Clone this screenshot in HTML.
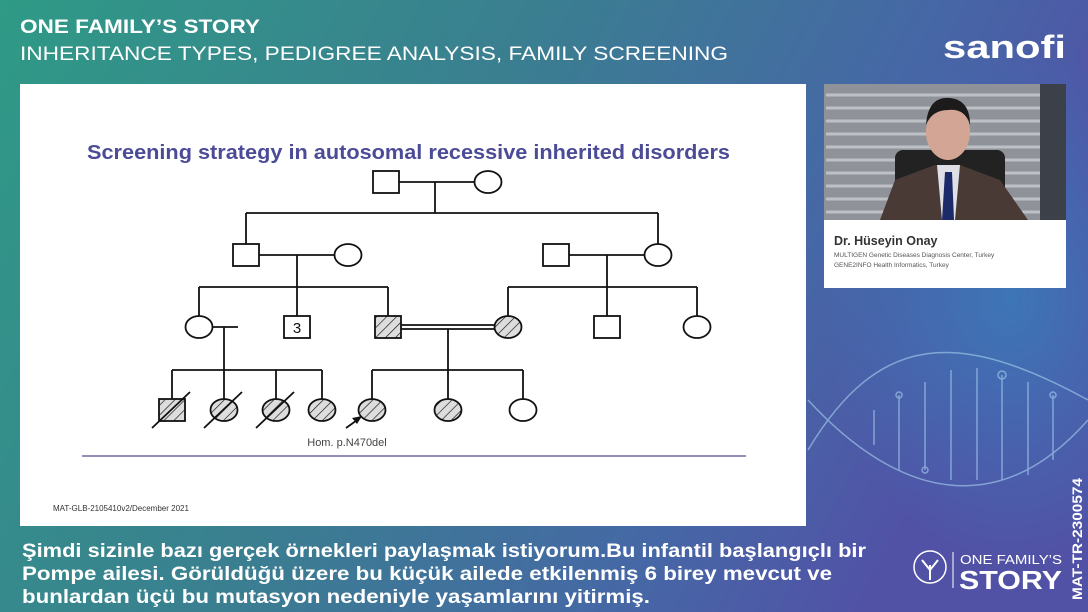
<!DOCTYPE html>
<html><head><meta charset="utf-8"><style>
body{margin:0;width:1088px;height:612px;overflow:hidden;font-family:"Liberation Sans",sans-serif;}
</style></head><body>
<svg width="1088" height="612" viewBox="0 0 1088 612" xmlns="http://www.w3.org/2000/svg" style="display:block">
<defs>
<linearGradient id="bg" x1="0" y1="0" x2="1" y2="0.3">
<stop offset="0" stop-color="#2f9a86"/><stop offset="0.45" stop-color="#3a7f90"/><stop offset="0.8" stop-color="#4667a6"/><stop offset="1" stop-color="#5152a6"/></linearGradient>
<pattern id="h" width="7" height="7" patternUnits="userSpaceOnUse" patternTransform="rotate(45)"><rect width="7" height="7" fill="#ddd"/><line x1="0" y1="0" x2="0" y2="7" stroke="#111" stroke-width="1.3"/></pattern>
<radialGradient id="blob" cx="0.5" cy="0.5" r="0.5"><stop offset="0" stop-color="#3b7ab8" stop-opacity="0.9"/><stop offset="1" stop-color="#3b7ab8" stop-opacity="0"/></radialGradient>
</defs>
<rect width="1088" height="612" fill="url(#bg)"/>
<ellipse cx="1010" cy="300" rx="190" ry="260" fill="url(#blob)"/>
<g stroke="#9cc3e6" stroke-width="1.5" fill="none" opacity="0.7">
<path d="M808 450 C 880 330, 960 330, 1088 400"/>
<path d="M808 400 C 900 500, 1000 520, 1088 420"/>
<line x1="874" y1="410" x2="874" y2="445"/><line x1="899" y1="395" x2="899" y2="470"/><line x1="925" y1="382" x2="925" y2="470"/><line x1="951" y1="370" x2="951" y2="480"/><line x1="977" y1="368" x2="977" y2="480"/><line x1="1002" y1="375" x2="1002" y2="480"/><line x1="1028" y1="382" x2="1028" y2="475"/><line x1="1053" y1="395" x2="1053" y2="460"/>
<circle cx="899" cy="395" r="3"/><circle cx="1002" cy="375" r="4"/><circle cx="1053" cy="395" r="3"/><circle cx="925" cy="470" r="3"/>
</g>
<text x="20" y="33" fill="#fff" font-size="19" font-weight="bold" textLength="240" lengthAdjust="spacingAndGlyphs">ONE FAMILY’S STORY</text>
<text x="20" y="60" fill="#fff" font-size="19" textLength="708" lengthAdjust="spacingAndGlyphs">INHERITANCE TYPES, PEDIGREE ANALYSIS, FAMILY SCREENING</text>
<text x="943" y="58" fill="#fff" font-size="32" font-weight="bold" textLength="123" lengthAdjust="spacingAndGlyphs">sanofi</text>
<rect x="20" y="84" width="786" height="442" fill="#fff"/>
<text x="87" y="159" fill="#4b4b98" font-size="20" font-weight="bold" textLength="643" lengthAdjust="spacingAndGlyphs">Screening strategy in autosomal recessive inherited disorders</text>
<g stroke="#111" stroke-width="1.8" fill="#fff">
<line x1="399" y1="182" x2="474" y2="182"/><line x1="435" y1="182" x2="435" y2="213"/><line x1="246" y1="213" x2="658" y2="213"/>
<line x1="246" y1="213" x2="246" y2="244"/><line x1="658" y1="213" x2="658" y2="244"/>
<rect x="373" y="171" width="26" height="22"/><ellipse cx="488" cy="182" rx="13.5" ry="11"/>
<line x1="259" y1="255" x2="335" y2="255"/><line x1="297" y1="255" x2="297" y2="287"/>
<line x1="569" y1="255" x2="645" y2="255"/><line x1="607" y1="255" x2="607" y2="287"/>
<rect x="233" y="244" width="26" height="22"/><ellipse cx="348" cy="255" rx="13.5" ry="11"/>
<rect x="543" y="244" width="26" height="22"/><ellipse cx="658" cy="255" rx="13.5" ry="11"/>
<line x1="199" y1="287" x2="388" y2="287"/><line x1="508" y1="287" x2="697" y2="287"/>
<line x1="199" y1="287" x2="199" y2="316"/><line x1="297" y1="287" x2="297" y2="316"/><line x1="388" y1="287" x2="388" y2="316"/>
<line x1="508" y1="287" x2="508" y2="316"/><line x1="607" y1="287" x2="607" y2="316"/><line x1="697" y1="287" x2="697" y2="316"/>
<line x1="212" y1="327" x2="238" y2="327"/><line x1="224" y1="327" x2="224" y2="370"/>
<line x1="401" y1="325" x2="495" y2="325"/><line x1="401" y1="329" x2="495" y2="329"/><line x1="448" y1="329" x2="448" y2="370"/>
<line x1="172" y1="370" x2="322" y2="370"/><line x1="372" y1="370" x2="523" y2="370"/>
<line x1="172" y1="370" x2="172" y2="399"/><line x1="224" y1="370" x2="224" y2="399"/><line x1="276" y1="370" x2="276" y2="399"/><line x1="322" y1="370" x2="322" y2="399"/>
<line x1="372" y1="370" x2="372" y2="399"/><line x1="448" y1="370" x2="448" y2="399"/><line x1="523" y1="370" x2="523" y2="399"/>
<ellipse cx="199" cy="327" rx="13.5" ry="11"/><rect x="284" y="316" width="26" height="22"/>
<rect x="375" y="316" width="26" height="22" fill="url(#h)"/><ellipse cx="508" cy="327" rx="13.5" ry="11" fill="url(#h)"/>
<rect x="594" y="316" width="26" height="22"/><ellipse cx="697" cy="327" rx="13.5" ry="11"/>
<rect x="159" y="399" width="26" height="22" fill="url(#h)"/>
<ellipse cx="224" cy="410" rx="13.5" ry="11" fill="url(#h)"/><ellipse cx="276" cy="410" rx="13.5" ry="11" fill="url(#h)"/>
<ellipse cx="322" cy="410" rx="13.5" ry="11" fill="url(#h)"/><ellipse cx="372" cy="410" rx="13.5" ry="11" fill="url(#h)"/>
<ellipse cx="448" cy="410" rx="13.5" ry="11" fill="url(#h)"/><ellipse cx="523" cy="410" rx="13.5" ry="11"/>
<line x1="152" y1="428" x2="190" y2="392"/><line x1="204" y1="428" x2="242" y2="392"/><line x1="256" y1="428" x2="294" y2="392"/>
<line x1="346" y1="428" x2="360" y2="418"/>
</g>
<path d="M362 416 L352 418 L357 424 Z" fill="#111"/>
<text x="297" y="333" text-anchor="middle" font-size="15" fill="#111">3</text>
<text x="347" y="446" text-anchor="middle" font-size="11" fill="#444">Hom. p.N470del</text>
<line x1="82" y1="456" x2="746" y2="456" stroke="#6b6ba3" stroke-width="1.5"/>
<text x="53" y="511" font-size="8" fill="#333">MAT-GLB-2105410v2/December 2021</text>
<rect x="824" y="84" width="242" height="136" fill="#8f9399"/>
<g stroke="#c9cdd2" stroke-width="3" opacity="0.8"><line x1="826" y1="95" x2="1040" y2="95"/><line x1="826" y1="108" x2="1040" y2="108"/><line x1="826" y1="121" x2="1040" y2="121"/><line x1="826" y1="134" x2="1040" y2="134"/><line x1="826" y1="147" x2="1040" y2="147"/><line x1="826" y1="160" x2="1040" y2="160"/><line x1="826" y1="173" x2="1040" y2="173"/><line x1="826" y1="186" x2="1040" y2="186"/><line x1="826" y1="199" x2="1040" y2="199"/><line x1="826" y1="212" x2="1040" y2="212"/></g>
<rect x="1040" y="84" width="26" height="136" fill="#3c4048"/>
<rect x="895" y="150" width="110" height="70" fill="#222" rx="8"/>
<path d="M880 220 L895 180 L935 165 L960 165 L1000 180 L1028 220 Z" fill="#4a3a36"/>
<path d="M937 165 L960 165 L955 220 L942 220 Z" fill="#dfe0e6"/>
<path d="M945 172 L952 172 L954 220 L942 220 Z" fill="#1c2a6a"/>
<ellipse cx="948" cy="132" rx="22" ry="28" fill="#d3a594"/>
<path d="M926 125 Q928 96 950 98 Q970 100 970 125 Q965 108 948 110 Q932 110 926 125Z" fill="#1c1a1a"/>
<rect x="824" y="220" width="242" height="68" fill="#fff"/>
<text x="834" y="245" font-size="12.5" font-weight="bold" fill="#333">Dr. Hüseyin Onay</text>
<text x="834" y="257" font-size="6.5" fill="#555">MULTIGEN Genetic Diseases Diagnosis Center, Turkey</text>
<text x="834" y="267" font-size="6.5" fill="#555">GENE2INFO Health Informatics, Turkey</text>
<g font-size="19" fill="#fff" font-weight="bold">
<text x="22" y="557" textLength="844" lengthAdjust="spacingAndGlyphs">Şimdi sizinle bazı gerçek örnekleri paylaşmak istiyorum.Bu infantil başlangıçlı bir</text>
<text x="22" y="580" textLength="810" lengthAdjust="spacingAndGlyphs">Pompe ailesi. Görüldüğü üzere bu küçük ailede etkilenmiş 6 birey mevcut ve</text>
<text x="22" y="603" textLength="628" lengthAdjust="spacingAndGlyphs">bunlardan üçü bu mutasyon nedeniyle yaşamlarını yitirmiş.</text>
</g>
<circle cx="930" cy="567" r="16" fill="none" stroke="#fff" stroke-width="1.5"/>
<path d="M930 580 L930 565 M930 570 L922 560 M930 570 L938 560" stroke="#fff" stroke-width="2"/>
<line x1="953" y1="552" x2="953" y2="588" stroke="#fff" stroke-width="1"/>
<text x="960" y="564" font-size="13" fill="#fff" textLength="102" lengthAdjust="spacingAndGlyphs">ONE FAMILY’S</text>
<text x="959" y="589" font-size="26" font-weight="bold" fill="#fff" textLength="103" lengthAdjust="spacingAndGlyphs">STORY</text>
<text transform="translate(1082,600) rotate(-90)" font-size="14" font-weight="bold" fill="#fff" textLength="122" lengthAdjust="spacingAndGlyphs">MAT-TR-2300574</text>
</svg>
</body></html>
